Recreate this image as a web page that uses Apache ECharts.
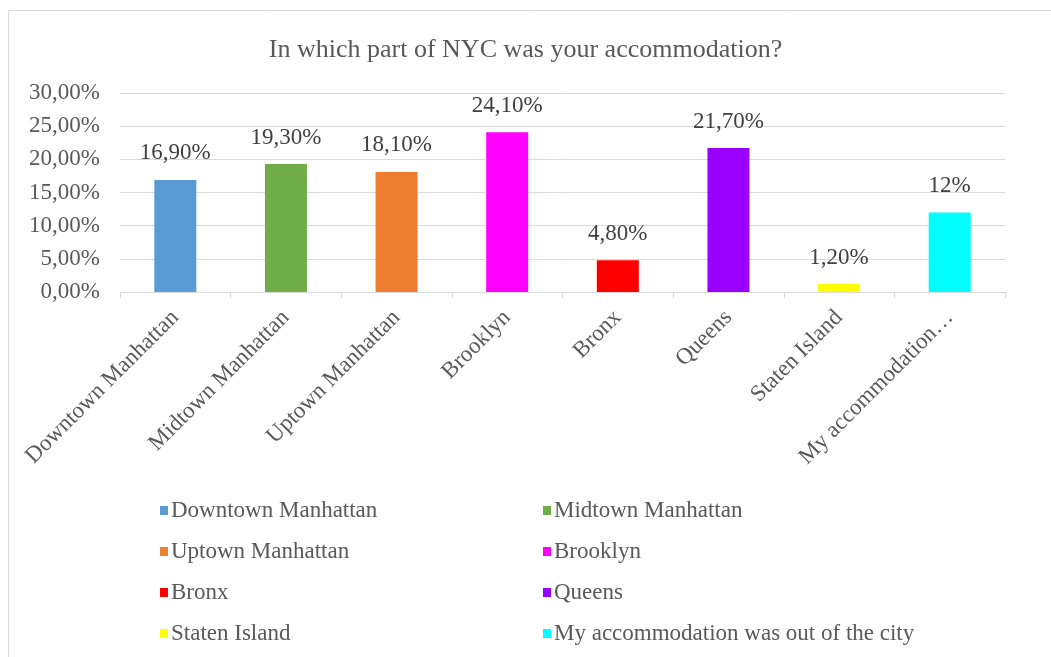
<!DOCTYPE html>
<html>
<head>
<meta charset="utf-8">
<script src="https://cdn.jsdelivr.net/npm/echarts@6/dist/echarts.min.js"></script>
<style>
  html, body { margin: 0; padding: 0; background: #fff; }
  #main { width: 1051px; height: 657px; }
</style>
</head>
<body>
<div id="main"></div>
<script>
var categories = ['Downtown Manhattan', 'Midtown Manhattan', 'Uptown Manhattan', 'Brooklyn',
  'Bronx', 'Queens', 'Staten Island', 'My accommodation was out of the city'];
var tickLabels = ['Downtown Manhattan', 'Midtown Manhattan', 'Uptown Manhattan', 'Brooklyn',
  'Bronx', 'Queens', 'Staten Island', 'My accommodation\u2026'];
var values = [16.9, 19.3, 18.1, 24.1, 4.8, 21.7, 1.2, 12];
var valueLabels = ['16,90%', '19,30%', '18,10%', '24,10%', '4,80%', '21,70%', '1,20%', '12%'];
var colors = ['#5B9BD5', '#70AD47', '#ED7D31', '#FF00FF', '#FF0000', '#9900FF', '#FFFF00', '#00FFFF'];

var font = '"Liberation Serif", "Times New Roman", serif';
var textColor = '#595959';

var myChart = echarts.init(document.getElementById('main'));

// one series per category, stacked so each bar sits centered in its slot
var series = categories.map(function (name, i) {
  var d = categories.map(function (c, j) { return j === i ? values[i] : null; });
  return {
    name: name,
    type: 'bar',
    stack: 'all',
    barWidth: 42,
    data: d,
    itemStyle: { color: colors[i] },
    label: {
      show: true,
      position: 'top',
      distance: 15,
      fontFamily: font,
      fontSize: 23,
      color: '#404040',
      formatter: function () { return valueLabels[i]; }
    }
  };
});

function legendFor(idx, left) {
  return {
    orient: 'vertical',
    left: left,
    top: 494,
    itemGap: 18,
    itemWidth: 8,
    itemHeight: 9,
    icon: 'rect',
    data: idx.map(function (i) { return categories[i]; }),
    textStyle: { fontFamily: font, fontSize: 23, color: textColor, padding: [0, 0, 0, -2] },
    selectedMode: false
  };
}

option = {
  animation: false,
  title: {
    text: 'In which part of NYC was your accommodation?',
    left: 'center',
    top: 32,
    textStyle: { fontFamily: font, fontSize: 26, fontWeight: 'normal', color: textColor }
  },
  graphic: [{
    type: 'rect',
    shape: { x: 8.5, y: 10.5, width: 1060, height: 700 },
    style: { fill: 'none', stroke: '#d9d9d9', lineWidth: 1 },
    silent: true
  }],
  legend: [legendFor([0, 2, 4, 6], 155), legendFor([1, 3, 5, 7], 538)],
  grid: { left: 120, right: 46, top: 93, bottom: 365 },
  xAxis: {
    type: 'category',
    data: tickLabels,
    axisLine: { lineStyle: { color: '#d9d9d9' } },
    axisTick: { show: true, length: 6, lineStyle: { color: '#d9d9d9' } },
    axisLabel: {
      rotate: 45,
      interval: 0,
      margin: 22,
      fontFamily: font,
      fontSize: 23,
      color: textColor
    }
  },
  yAxis: {
    type: 'value',
    min: 0,
    max: 30,
    interval: 5,
    axisLine: { show: false },
    axisTick: { show: false },
    splitLine: { lineStyle: { color: '#d9d9d9' } },
    axisLabel: {
      margin: 20,
      fontFamily: font,
      fontSize: 23,
      color: textColor,
      formatter: function (v) { return v.toFixed(2).replace('.', ',') + '%'; }
    }
  },
  series: series
};
myChart.setOption(option);
</script>
</body>
</html>
